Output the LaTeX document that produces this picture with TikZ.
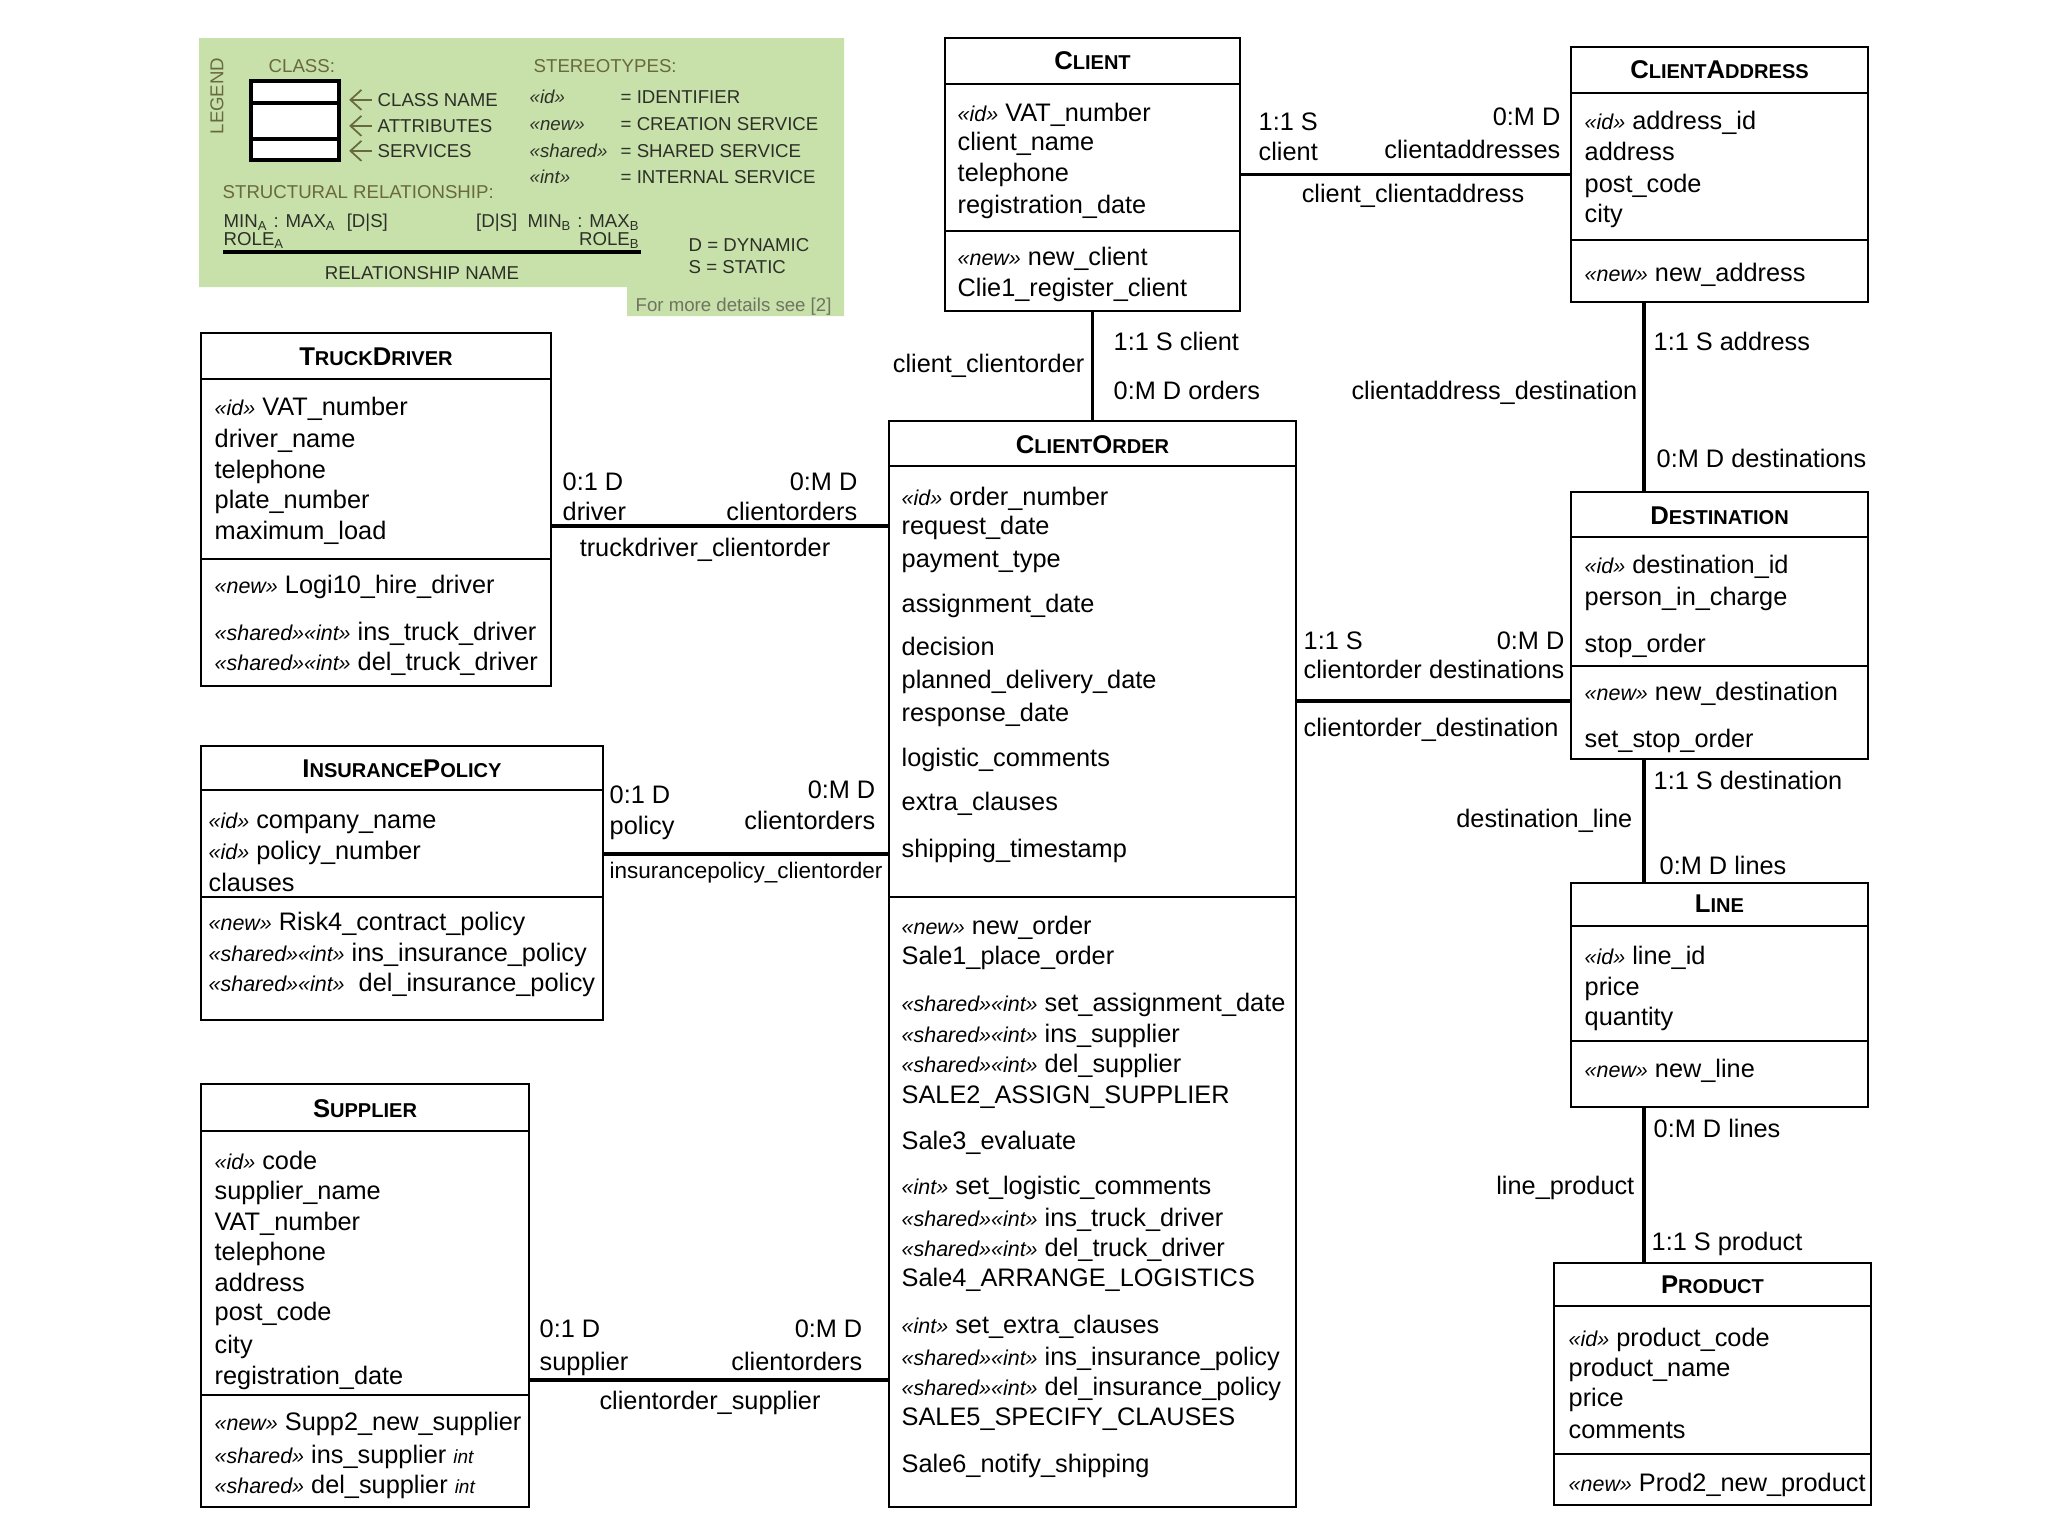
\documentclass[tikz,border=0pt]{standalone}
\usepackage{fontspec}
\setmainfont{Liberation Sans}
\usetikzlibrary{fit,arrows.meta}

\definecolor{legendgreen}{RGB}{200,225,170}
\definecolor{legenddark}{RGB}{45,48,40}
\definecolor{legendolive}{RGB}{105,105,62}
\definecolor{legendnote}{RGB}{110,116,96}

\newcommand{\st}[1]{{\fontsize{6.1}{6.5}\selectfont\itshape «#1»}}
\newcommand{\smc}[1]{{\fontsize{5.7}{6}\selectfont #1}}

\tikzset{
    classbox/.style={draw, line width=0.8pt, inner sep=0pt},
    sepline/.style={line width=0.8pt},
    ctitle/.style={inner sep=0pt, font=\fontsize{7.3}{8}\selectfont\bfseries},
    attr/.style={anchor=mid west, inner sep=0pt, font=\fontsize{7.2}{8}\selectfont},
    assoc/.style={line width=0.9pt},
    lab/.style={anchor=mid west, inner sep=0pt, font=\fontsize{7.2}{8}\selectfont},
    rlab/.style={lab, anchor=mid east},
    clab/.style={lab, anchor=mid},
    legtxt/.style={anchor=mid west, inner sep=0pt, text=legenddark, font=\fontsize{5.3}{6}\selectfont},
    leghead/.style={legtxt, text=legendolive},
    legarrow/.style={draw=legendolive, line width=0.5pt, -{Straight Barb[length=1.1mm, width=2mm]},
        shorten <=0.05cm, shorten >=0.08cm},
}

\begin{document}
\begin{tikzpicture}[x=0.01cm, y=-0.01cm]
    \useasboundingbox (0,0) rectangle (2048,1536);

    % Legend
    \fill[legendgreen] (199,38) -- (844,38) -- (844,316) -- (627,316) -- (627,287) -- (199,287) -- cycle;
    \node[leghead, anchor=center, rotate=90] (leg-title) at (217,96) {LEGEND};
    \node[leghead] (leg-class) at (268,63) {CLASS:};
    \node[classbox, line width=1.2pt, fill=white, fit={(251,81) (339,160)}] (icon) {};
    \draw[line width=1.2pt] (251,103) -- (339,103);
    \draw[line width=1.2pt] (251,139) -- (339,139);
    \foreach \y/\t [count=\i] in {97/CLASS NAME, 123/ATTRIBUTES, 148/SERVICES} {
        \node[legtxt] (leg-part\i) at (377,\y) {\t};
        \draw[legarrow] (leg-part\i.west) -- (leg-part\i.west -| icon.east);
    }
    \node[leghead] (leg-stereo) at (533,63) {STEREOTYPES:};
    \foreach \y/\s/\t [count=\i] in {94/id/IDENTIFIER, 121/new/CREATION SERVICE, 148/shared/SHARED SERVICE, 174/int/INTERNAL SERVICE} {
        \node[legtxt] (leg-st\i) at (529,\y) {\itshape «\s»};
        \node[legtxt] (leg-eq\i) at (620,\y) {= \t};
    }
    \node[leghead] (leg-struct) at (222,189) {STRUCTURAL RELATIONSHIP:};
    \node[legtxt] (leg-mina) at (223,218) {MIN\textsubscript{A} : MAX\textsubscript{A}\ \ [D|S]};
    \node[legtxt] (leg-rolea) at (223,236) {ROLE\textsubscript{A}};
    \node[legtxt, anchor=mid east] (leg-minb) at (641,218) {[D|S]\ \ MIN\textsubscript{B} : MAX\textsubscript{B}};
    \node[legtxt, anchor=mid east] (leg-roleb) at (641,236) {ROLE\textsubscript{B}};
    \coordinate (leg-a) at (223,252);
    \coordinate (leg-b) at (641,252);
    \draw[line width=1.3pt] (leg-a) -- (leg-b);
    \node[legtxt, anchor=mid] (leg-relname) at (422,270) {RELATIONSHIP NAME};
    \node[legtxt] (leg-dyn) at (688,242) {D = DYNAMIC};
    \node[legtxt] (leg-stat) at (688,264) {S = STATIC};
    \node[legtxt, text=legendnote] (leg-note) at (635,302) {For more details see [2]};

    % Client
    \node[classbox, fit={(945,38) (1240,311)}] (client) {};
    \node[ctitle] (client-t) at (1092.5,61) {C\smc{LIENT}};
    \draw[sepline] (945,84) -- (1240,84);
    \draw[sepline] (945,231) -- (1240,231);
    \foreach \y/\t [count=\i] in {112/{\st{id} VAT\_number}, 141/client\_name, 172/telephone,
        204/registration\_date, 256/{\st{new} new\_client}, 287/Clie1\_register\_client}
        \node[attr] (client-\i) at (957,\y) {\t};

    % ClientAddress
    \node[classbox, fit={(1571,47) (1868,302)}] (caddr) {};
    \node[ctitle] (caddr-t) at (1719.5,70) {C\smc{LIENT}A\smc{DDRESS}};
    \draw[sepline] (1571,93) -- (1868,93);
    \draw[sepline] (1571,240) -- (1868,240);
    \foreach \y/\t [count=\i] in {120/{\st{id} address\_id}, 151/address, 183/post\_code, 213/city,
        272/{\st{new} new\_address}}
        \node[attr] (caddr-\i) at (1584,\y) {\t};

    % TruckDriver
    \node[classbox, fit={(201,333) (551,686)}] (truck) {};
    \node[ctitle] (truck-t) at (376,357) {T\smc{RUCK}D\smc{RIVER}};
    \draw[sepline] (201,379) -- (551,379);
    \draw[sepline] (201,559) -- (551,559);
    \foreach \y/\t [count=\i] in {406/{\st{id} VAT\_number}, 438/driver\_name, 469/telephone,
        499/plate\_number, 530/maximum\_load, 584/{\st{new} Logi10\_hire\_driver},
        631/{\st{shared}\st{int} ins\_truck\_driver}, 661/{\st{shared}\st{int} del\_truck\_driver}}
        \node[attr] (truck-\i) at (214,\y) {\t};

    % ClientOrder
    \node[classbox, fit={(889,421) (1296,1507)}] (order) {};
    \node[ctitle] (order-t) at (1092.5,445) {C\smc{LIENT}O\smc{RDER}};
    \draw[sepline] (889,466) -- (1296,466);
    \draw[sepline] (889,897) -- (1296,897);
    \foreach \y/\t [count=\i] in {496/{\st{id} order\_number}, 525/request\_date, 558/payment\_type,
        603/assignment\_date, 646/decision, 679/planned\_delivery\_date, 712/response\_date,
        757/logistic\_comments, 801/extra\_clauses, 848/shipping\_timestamp,
        925/{\st{new} new\_order}, 955/Sale1\_place\_order,
        1002/{\st{shared}\st{int} set\_assignment\_date}, 1033/{\st{shared}\st{int} ins\_supplier},
        1063/{\st{shared}\st{int} del\_supplier}, 1094/SALE2\_ASSIGN\_SUPPLIER, 1140/Sale3\_evaluate,
        1185/{\st{int} set\_logistic\_comments}, 1217/{\st{shared}\st{int} ins\_truck\_driver},
        1247/{\st{shared}\st{int} del\_truck\_driver}, 1277/Sale4\_ARRANGE\_LOGISTICS,
        1324/{\st{int} set\_extra\_clauses}, 1356/{\st{shared}\st{int} ins\_insurance\_policy},
        1386/{\st{shared}\st{int} del\_insurance\_policy}, 1416/SALE5\_SPECIFY\_CLAUSES,
        1463/Sale6\_notify\_shipping}
        \node[attr] (order-\i) at (901,\y) {\t};

    % Destination
    \node[classbox, fit={(1571,492) (1868,759)}] (dest) {};
    \node[ctitle] (dest-t) at (1719.5,516) {D\smc{ESTINATION}};
    \draw[sepline] (1571,537) -- (1868,537);
    \draw[sepline] (1571,666) -- (1868,666);
    \foreach \y/\t [count=\i] in {564/{\st{id} destination\_id}, 596/person\_in\_charge, 643/stop\_order,
        691/{\st{new} new\_destination}, 738/set\_stop\_order}
        \node[attr] (dest-\i) at (1584,\y) {\t};

    % Line
    \node[classbox, fit={(1571,883) (1868,1107)}] (line) {};
    \node[ctitle] (line-t) at (1719.5,904) {L\smc{INE}};
    \draw[sepline] (1571,926) -- (1868,926);
    \draw[sepline] (1571,1041) -- (1868,1041);
    \foreach \y/\t [count=\i] in {955/{\st{id} line\_id}, 986/price, 1016/quantity,
        1068/{\st{new} new\_line}}
        \node[attr] (line-\i) at (1584,\y) {\t};

    % Product
    \node[classbox, fit={(1554,1263) (1871,1505)}] (prod) {};
    \node[ctitle] (prod-t) at (1712.5,1285) {P\smc{RODUCT}};
    \draw[sepline] (1554,1306) -- (1871,1306);
    \draw[sepline] (1554,1454) -- (1871,1454);
    \foreach \y/\t [count=\i] in {1337/{\st{id} product\_code}, 1367/product\_name, 1397/price,
        1429/comments, 1482/{\st{new} Prod2\_new\_product}}
        \node[attr] (prod-\i) at (1568,\y) {\t};

    % InsurancePolicy
    \node[classbox, fit={(201,746) (603,1020)}] (ins) {};
    \node[ctitle] (ins-t) at (402,769) {I\smc{NSURANCE}P\smc{OLICY}};
    \draw[sepline] (201,790) -- (603,790);
    \draw[sepline] (201,897) -- (603,897);
    \foreach \y/\t [count=\i] in {819/{\st{id} company\_name}, 850/{\st{id} policy\_number}, 882/clauses,
        921/{\st{new} Risk4\_contract\_policy}, 952/{\st{shared}\st{int} ins\_insurance\_policy},
        982/{\st{shared}\st{int}\ \ del\_insurance\_policy}}
        \node[attr] (ins-\i) at (208,\y) {\t};

    % Supplier
    \node[classbox, fit={(201,1084) (529,1507)}] (supp) {};
    \node[ctitle] (supp-t) at (365,1109) {S\smc{UPPLIER}};
    \draw[sepline] (201,1131) -- (529,1131);
    \draw[sepline] (201,1395) -- (529,1395);
    \foreach \y/\t [count=\i] in {1160/{\st{id} code}, 1190/supplier\_name, 1221/VAT\_number,
        1251/telephone, 1282/address, 1311/post\_code, 1344/city, 1375/registration\_date,
        1421/{\st{new} Supp2\_new\_supplier},
        1454/{\st{shared} ins\_supplier {\fontsize{5.4}{6}\selectfont\itshape int}},
        1484/{\st{shared} del\_supplier {\fontsize{5.4}{6}\selectfont\itshape int}}}
        \node[attr] (supp-\i) at (214,\y) {\t};

    % Relationships
    \coordinate (tdrow) at (0,526);
    \coordinate (insrow) at (0,854);
    \coordinate (suprow) at (0,1380);
    \coordinate (dstrow) at (0,701);
    \coordinate (rcol) at (1644,0);

    % client_clientaddress
    \draw[assoc] (client.east) -- (caddr.west);
    \node[lab] (cca-a1) at (1258,121) {1:1 S};
    \node[lab] (cca-a2) at (1258,151) {client};
    \node[rlab] (cca-b1) at (1561,116) {0:M D};
    \node[rlab] (cca-b2) at (1561,149) {clientaddresses};
    \node[clab] (cca-n) at (1413,193) {client\_clientaddress};

    % client_clientorder
    \draw[assoc] (client.south) -- (order.north);
    \node[rlab] (cco-n) at (1085,363) {client\_clientorder};
    \node[lab] (cco-a) at (1113,341) {1:1 S client};
    \node[lab] (cco-b) at (1113,390) {0:M D orders};

    % truckdriver_clientorder
    \draw[assoc] (truck.east |- tdrow) -- (order.west |- tdrow);
    \node[lab] (tdo-a1) at (562,481) {0:1 D};
    \node[lab] (tdo-a2) at (562,511) {driver};
    \node[rlab] (tdo-b1) at (858,481) {0:M D};
    \node[rlab] (tdo-b2) at (858,511) {clientorders};
    \node[clab] (tdo-n) at (705,547) {truckdriver\_clientorder};

    % insurancepolicy_clientorder
    \draw[assoc] (ins.east |- insrow) -- (order.west |- insrow);
    \node[lab] (ipo-a1) at (609,794) {0:1 D};
    \node[lab] (ipo-a2) at (609,825) {policy};
    \node[rlab] (ipo-b1) at (876,789) {0:M D};
    \node[rlab] (ipo-b2) at (876,820) {clientorders};
    \node[lab, font=\fontsize{6.4}{7}\selectfont] (ipo-n) at (609,869) {insurancepolicy\_clientorder};

    % clientorder_supplier
    \draw[assoc] (supp.east |- suprow) -- (order.west |- suprow);
    \node[lab] (cos-a1) at (539,1328) {0:1 D};
    \node[lab] (cos-a2) at (539,1361) {supplier};
    \node[rlab] (cos-b1) at (863,1328) {0:M D};
    \node[rlab] (cos-b2) at (863,1361) {clientorders};
    \node[clab] (cos-n) at (710,1400) {clientorder\_supplier};

    % clientorder_destination
    \draw[assoc] (order.east |- dstrow) -- (dest.west |- dstrow);
    \node[lab] (cod-a1) at (1303,640) {1:1 S};
    \node[lab] (cod-a2) at (1303,669) {clientorder};
    \node[rlab] (cod-b1) at (1565,640) {0:M D};
    \node[rlab] (cod-b2) at (1565,669) {destinations};
    \node[lab] (cod-n) at (1303,727) {clientorder\_destination};

    % clientaddress_destination
    \draw[assoc] (caddr.south -| rcol) -- (dest.north -| rcol);
    \node[lab] (cad-a) at (1653,341) {1:1 S address};
    \node[lab] (cad-b) at (1656,458) {0:M D destinations};
    \node[rlab] (cad-n) at (1638,390) {clientaddress\_destination};

    % destination_line
    \draw[assoc] (dest.south -| rcol) -- (line.north -| rcol);
    \node[lab] (dl-a) at (1653,780) {1:1 S destination};
    \node[lab] (dl-b) at (1659,865) {0:M D lines};
    \node[rlab] (dl-n) at (1633,818) {destination\_line};

    % line_product
    \draw[assoc] (line.south -| rcol) -- (prod.north -| rcol);
    \node[lab] (lp-a) at (1653,1128) {0:M D lines};
    \node[lab] (lp-b) at (1651,1241) {1:1 S product};
    \node[rlab] (lp-n) at (1635,1185) {line\_product};
\end{tikzpicture}
\end{document}
